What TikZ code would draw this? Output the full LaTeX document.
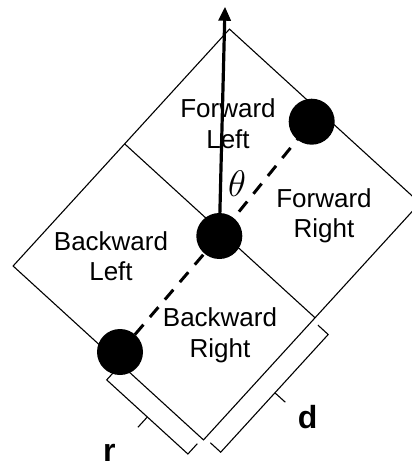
\RequirePackage{fix-cm}
\documentclass[tikz,border=0pt]{standalone}
\usepackage{fontspec}
\setmainfont{Liberation Sans}
\usetikzlibrary{arrows.meta}
\begin{document}
\begin{tikzpicture}[x=1pt,y=-1pt,
  edge/.style={line width=1.1pt, line join=miter},
  quad/.style={align=center, inner sep=0pt, anchor=base, font=\fontsize{26}{30.5}\selectfont},
  wheel/.style={circle, fill=black, minimum size=46pt, inner sep=0pt},
  dimlbl/.style={inner sep=0pt, anchor=base west, font=\fontsize{32}{32}\selectfont\bfseries},
  brk/.style={line width=1.1pt, line join=miter},
  heading/.style={line width=3.2pt, -{Triangle[length=14pt,width=12pt]}},
  axle/.style={line width=3pt, dash pattern=on 13pt off 10pt}
]
\useasboundingbox (0,0) rectangle (412,464);
\clip (0,0) rectangle (412,464);
% rectangle corners
\coordinate (T) at (229.5,29.1);
\coordinate (L) at (13.1,266.0);
\coordinate (B) at (203.5,439.9);
\coordinate (R) at (419.9,203.0);
\coordinate (mtl) at (124.7,143.9);
\coordinate (mbr) at (315.1,317.8);
% wheel centres and heading tip
\coordinate (pbl) at (120,352);
\coordinate (pc) at (219.3,236);
\coordinate (ptr) at (311.7,121.7);
\coordinate (tip) at (225,6.7);

\draw[edge] (T) -- (R) -- (B) -- (L) -- cycle;
\draw[edge] (mtl) -- (mbr);

\node[quad] (fl) at (228,148) {Forward\\Left};
\node[quad] (fr) at (324,237.5) {Forward\\Right};
\node[quad] (bkl) at (111,280.5) {Backward\\Left};
\node[quad] (bkr) at (220,357) {Backward\\Right};

\draw[axle] (pbl) -- (pc) -- (ptr);
\draw[heading] (pc) -- (tip);

\node[wheel] (wbl) at (pbl) {};
\node[wheel] (wc) at (pc) {};
\node[wheel] (wtr) at (ptr) {};

\node[inner sep=0pt, font=\fontsize{37}{37}\selectfont] (th) at (237,184) {$\theta$};

% brackets
\draw[brk] (116.1,369.6) -- (106.7,379.9) -- (187.9,454.0) -- (197.3,443.7);
\draw[brk] (147.3,417.0) -- (137.9,427.3);
\draw[brk] (210.4,442.8) -- (220.7,452.2) -- (328.2,334.5) -- (317.9,325.1);
\draw[brk] (274.9,392.8) -- (285.3,402.2);

\node[dimlbl] (rl) at (103,461) {r};
\node[dimlbl] (dl) at (297.7,428.3) {d};
\end{tikzpicture}
\end{document}
